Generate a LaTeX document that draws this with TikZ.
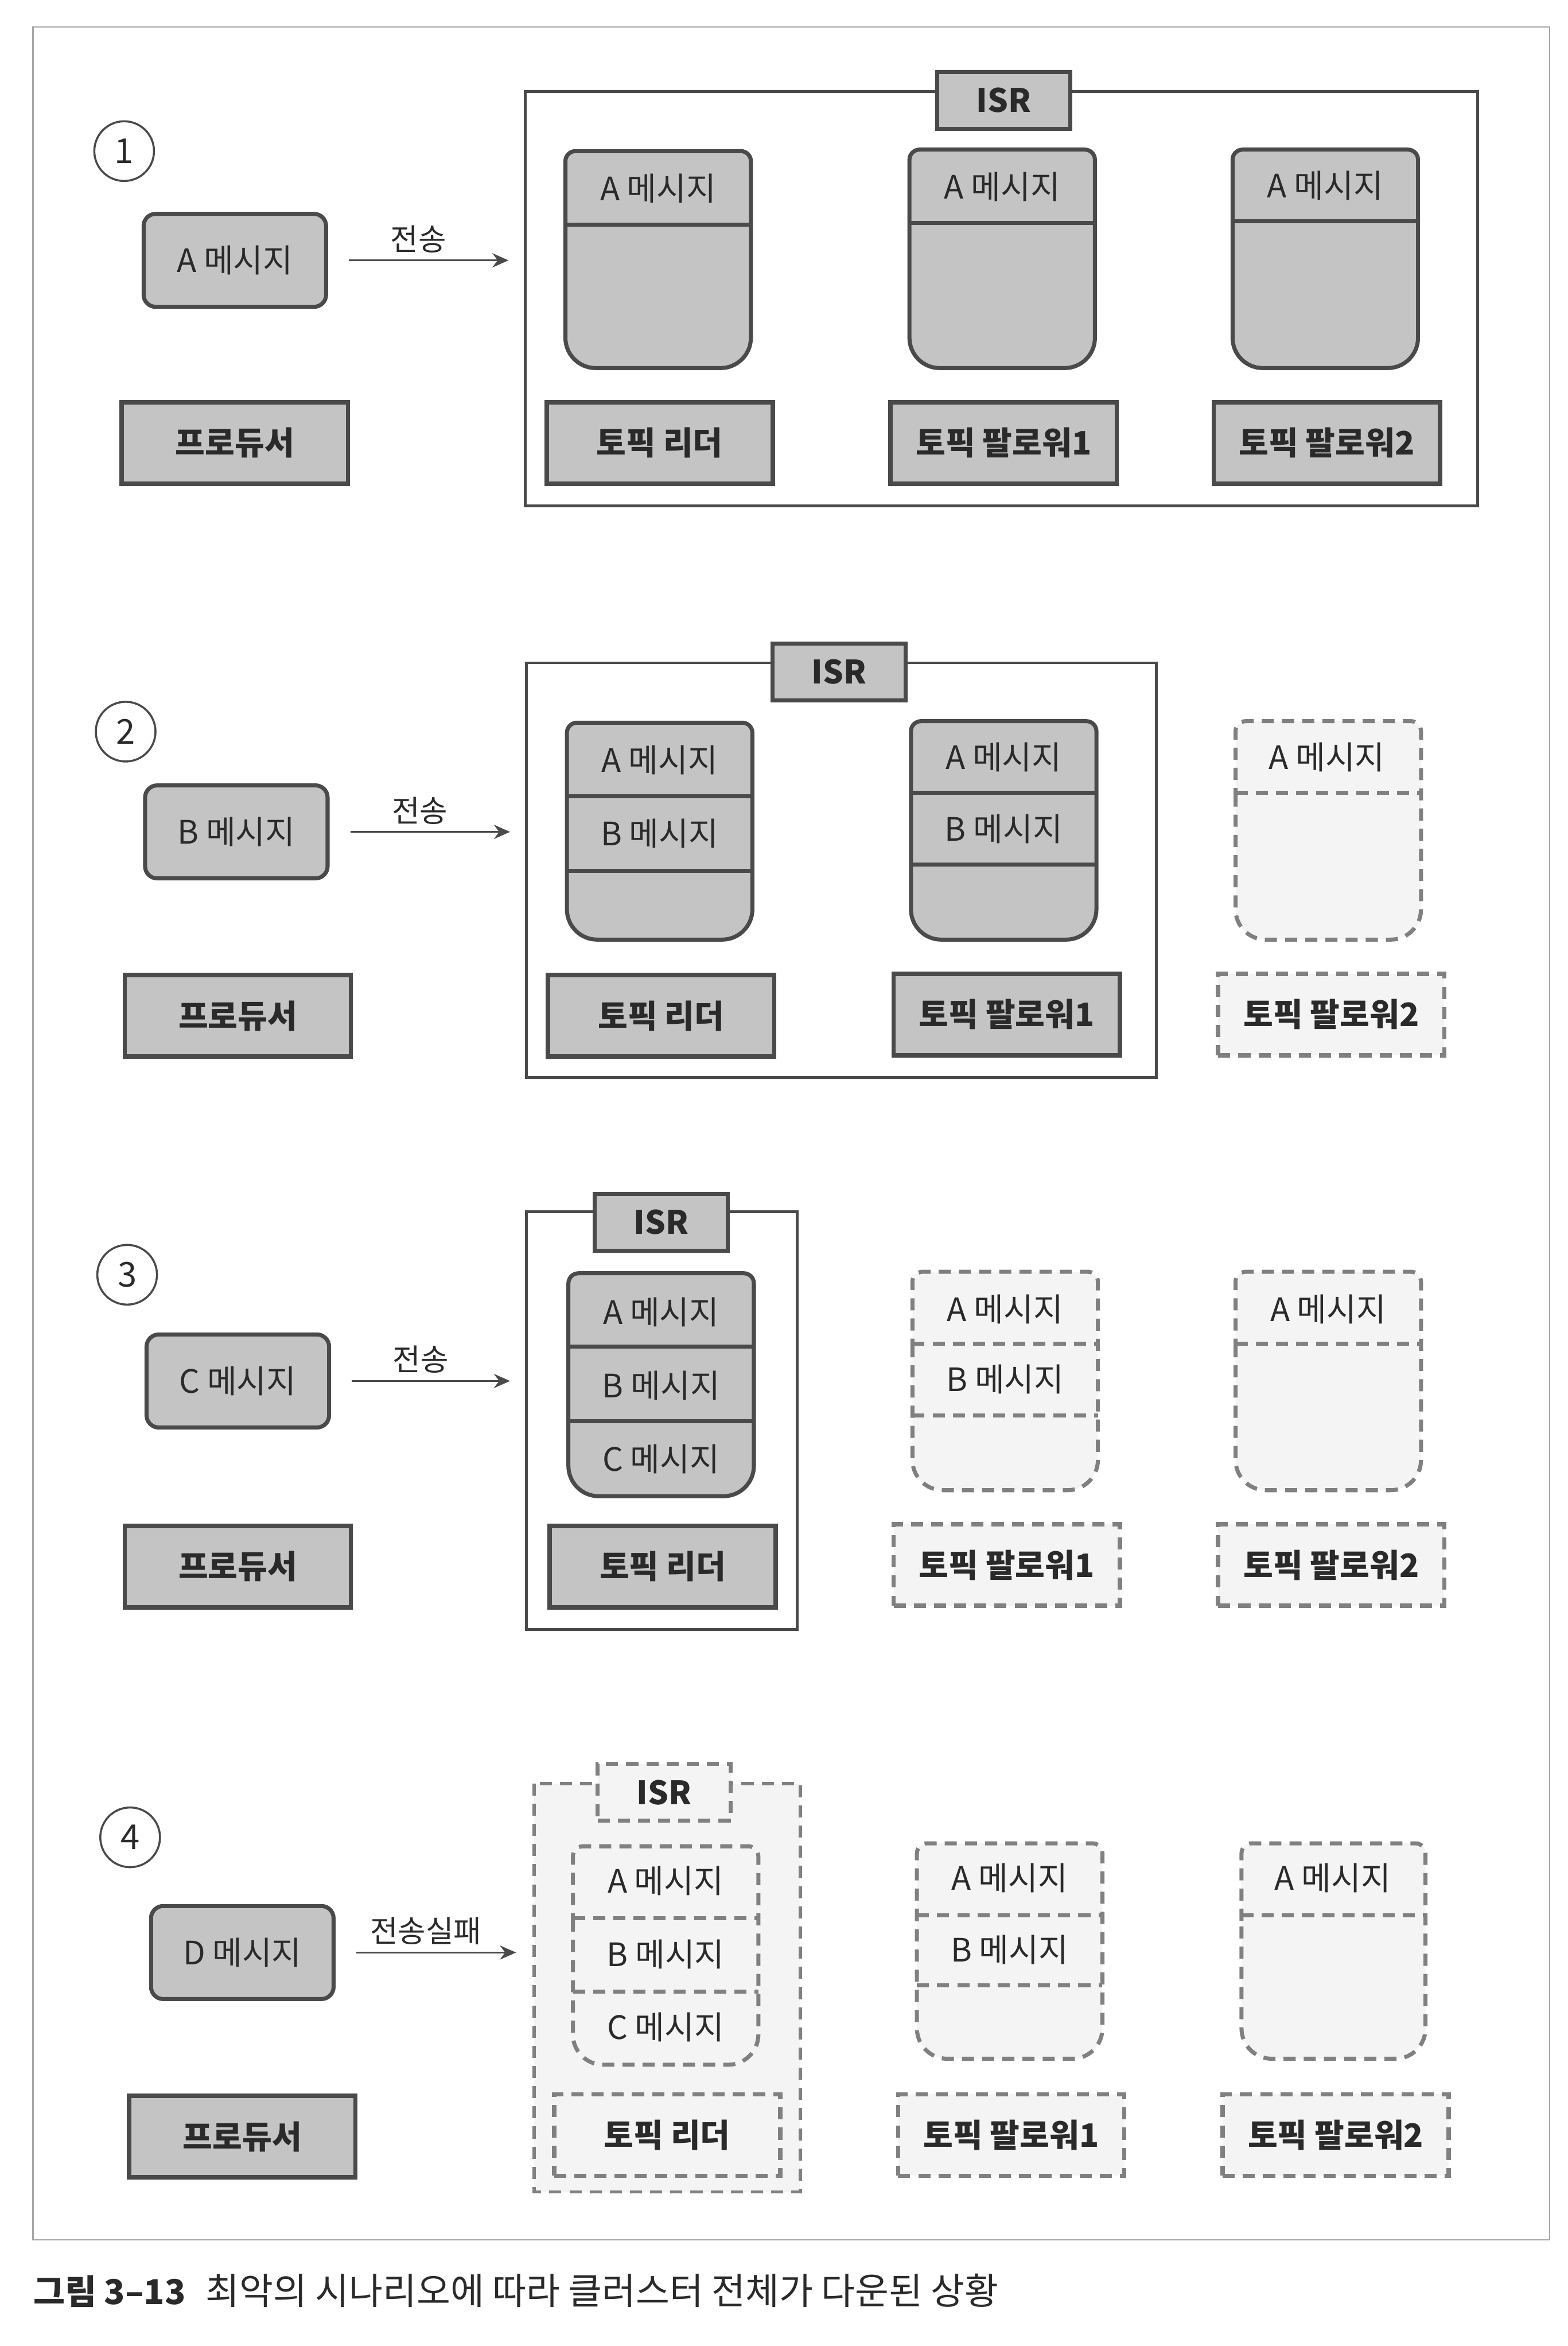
\documentclass[tikz,border=0pt]{standalone}
\usepackage{fontspec}
\setmainfont{Noto Sans CJK KR}
\usetikzlibrary{arrows.meta}
\definecolor{boxgray}{HTML}{C4C4C4}
\definecolor{edge}{HTML}{4A4A4A}
\definecolor{ghost}{HTML}{808080}
\definecolor{ghostfill}{HTML}{F4F4F4}
\definecolor{ink}{HTML}{2A2A2A}
% drum: style, left, top, right, bottom
\newcommand{\drum}[5]{\path[#1] (#2,{(#3+#5)/2}) [rounded corners=5pt] -- (#2,#3) -- (#4,#3) -- (#4,{(#3+#5)/2}) [rounded corners=15pt] -- (#4,#5) -- (#2,#5) -- cycle;}
\begin{document}
\begin{tikzpicture}[x=0.02606cm,y=-0.02606cm,text=ink,
  msg/.style={draw=edge,fill=boxgray,line width=2pt,rounded corners=6pt,minimum width=3.18cm,minimum height=1.62cm,font=\fontsize{16}{18}\selectfont},
  role/.style={draw=edge,fill=boxgray,line width=2.2pt,minimum width=3.94cm,minimum height=1.42cm,font=\fontsize{16}{18}\selectfont\bfseries},
  ghostrole/.style={role,draw=ghost,fill=ghostfill,dash pattern=on 6pt off 4pt},
  tag/.style={draw=edge,fill=boxgray,line width=2pt,minimum width=2.32cm,minimum height=0.99cm,font=\fontsize{16}{18}\selectfont\bfseries},
  ghosttag/.style={tag,draw=ghost,fill=ghostfill,dash pattern=on 6pt off 4pt},
  cell/.style={font=\fontsize{16}{18}\selectfont},
  drumbox/.style={draw=edge,fill=boxgray,line width=2pt},
  ghostdrum/.style={draw=ghost,fill=ghostfill,line width=2pt,dash pattern=on 6pt off 4pt},
  split/.style={draw=edge,line width=2pt},
  ghostsplit/.style={draw=ghost,line width=2pt,dash pattern=on 6pt off 4pt},
  frame/.style={draw=edge,line width=1.4pt},
  ghostframe/.style={draw=ghost,fill=ghostfill,line width=1.6pt,dash pattern=on 6pt off 4pt},
  num/.style={circle,draw=edge,line width=1pt,minimum size=1.04cm,font=\fontsize{17}{19}\selectfont},
  send/.style={draw=edge,line width=1pt,shorten <=0.36cm,-{Stealth[length=8pt,width=7pt]}},
  lbl/.style={font=\fontsize{15}{17}\selectfont}]
\useasboundingbox (0,0) rectangle (1048,1568);
\draw[gray!70,line width=0.8pt] (22,18) rectangle (1036,1497);

% (1) all replicas in ISR
\node[num] (c1) at (83,101) {1};
\node[msg] (m1) at (157,174) {A 메시지};
\node[role] (p1) at (157,296) {프로듀서};
\coordinate (t1) at (340,174);
\draw[send] (m1.east) -- node[lbl,above] {전송} (t1);
\draw[frame] (351,61) rectangle (988,338);
\node[tag] (isr1) at (671,67) {ISR};
\drum{drumbox}{378}{101}{502}{246} \draw[split] (378,150) -- (502,150);
\node[cell] (l1a) at (440,126) {A 메시지};
\node[role] (lead1) at (441,296) {토픽 리더};
\drum{drumbox}{608}{100}{732}{246} \draw[split] (608,149) -- (732,149);
\node[cell] (f1a) at (670,125) {A 메시지};
\node[role] (fol11) at (671,296) {토픽 팔로워1};
\drum{drumbox}{824}{100}{948}{246} \draw[split] (824,148) -- (948,148);
\node[cell] (g1a) at (886,124) {A 메시지};
\node[role] (fol12) at (887,296) {토픽 팔로워2};

% (2) follower 2 down
\node[num] (c2) at (84,489) {2};
\node[msg] (m2) at (158,556) {B 메시지};
\node[role] (p2) at (159,679) {프로듀서};
\coordinate (t2) at (341,556);
\draw[send] (m2.east) -- node[lbl,above] {전송} (t2);
\draw[frame] (352,443) rectangle (773,720);
\node[tag] (isr2) at (561,449) {ISR};
\drum{drumbox}{379}{483}{503}{628} \draw[split] (379,532) -- (503,532); \draw[split] (379,582) -- (503,582);
\node[cell] (l2a) at (441,508) {A 메시지};
\node[cell] (l2b) at (441,557) {B 메시지};
\node[role] (lead2) at (442,679) {토픽 리더};
\drum{drumbox}{609}{482}{733}{628} \draw[split] (609,530) -- (733,530); \draw[split] (609,578) -- (733,578);
\node[cell] (f2a) at (671,506) {A 메시지};
\node[cell] (f2b) at (671,554) {B 메시지};
\node[role] (fol21) at (673,678) {토픽 팔로워1};
\drum{ghostdrum}{826}{482}{950}{628} \draw[ghostsplit] (826,530) -- (950,530);
\node[cell] (g2a) at (887,506) {A 메시지};
\node[ghostrole] (fol22) at (890,678) {토픽 팔로워2};

% (3) only the leader left
\node[num] (c3) at (85,852) {3};
\node[msg] (m3) at (159,923) {C 메시지};
\node[role] (p3) at (159,1047) {프로듀서};
\coordinate (t3) at (341,923);
\draw[send] (m3.east) -- node[lbl,above] {전송} (t3);
\draw[frame] (352,810) rectangle (533,1089);
\node[tag] (isr3) at (442,817) {ISR};
\drum{drumbox}{380}{851}{504}{1000} \draw[split] (380,900) -- (504,900); \draw[split] (380,950) -- (504,950);
\node[cell] (l3a) at (442,877) {A 메시지};
\node[cell] (l3b) at (442,926) {B 메시지};
\node[cell] (l3c) at (442,975) {C 메시지};
\node[role] (lead3) at (443,1047) {토픽 리더};
\drum{ghostdrum}{610}{850}{734}{996} \draw[ghostsplit] (610,898) -- (734,898); \draw[ghostsplit] (610,946) -- (734,946);
\node[cell] (f3a) at (672,875) {A 메시지};
\node[cell] (f3b) at (672,922) {B 메시지};
\node[ghostrole] (fol31) at (673,1046) {토픽 팔로워1};
\drum{ghostdrum}{826}{850}{950}{996} \draw[ghostsplit] (826,898) -- (950,898);
\node[cell] (g3a) at (888,875) {A 메시지};
\node[ghostrole] (fol32) at (890,1046) {토픽 팔로워2};

% (4) whole cluster down
\node[num] (c4) at (87,1228) {4};
\node[msg] (m4) at (162,1305) {D 메시지};
\node[role] (p4) at (162,1428) {프로듀서};
\coordinate (t4) at (345,1305);
\draw[send] (m4.east) -- node[lbl,above] {전송실패} (t4);
\path[ghostframe] (357,1192) rectangle (535,1465);
\node[ghosttag] (isr4) at (444,1198) {ISR};
\drum{ghostdrum}{383}{1234}{507}{1380} \draw[ghostsplit] (383,1282) -- (507,1282); \draw[ghostsplit] (383,1331) -- (507,1331);
\node[cell] (l4a) at (445,1257) {A 메시지};
\node[cell] (l4b) at (445,1306) {B 메시지};
\node[cell] (l4c) at (445,1355) {C 메시지};
\node[ghostrole] (lead4) at (446,1427) {토픽 리더};
\drum{ghostdrum}{613}{1232}{737}{1376} \draw[ghostsplit] (613,1280) -- (737,1280); \draw[ghostsplit] (613,1327) -- (737,1327);
\node[cell] (f4a) at (675,1255) {A 메시지};
\node[cell] (f4b) at (675,1303) {B 메시지};
\node[ghostrole] (fol41) at (676,1427) {토픽 팔로워1};
\drum{ghostdrum}{830}{1232}{953}{1376} \draw[ghostsplit] (830,1280) -- (953,1280);
\node[cell] (g4a) at (891,1255) {A 메시지};
\node[ghostrole] (fol42) at (893,1427) {토픽 팔로워2};

\node[anchor=west,font=\fontsize{18.2}{21}\selectfont,inner sep=0pt] (cap) at (22,1531) {{\fontsize{17}{20}\selectfont\bfseries 그림 3–13}\hspace{0.55em}최악의 시나리오에 따라 클러스터 전체가 다운된 상황};
\end{tikzpicture}
\end{document}
